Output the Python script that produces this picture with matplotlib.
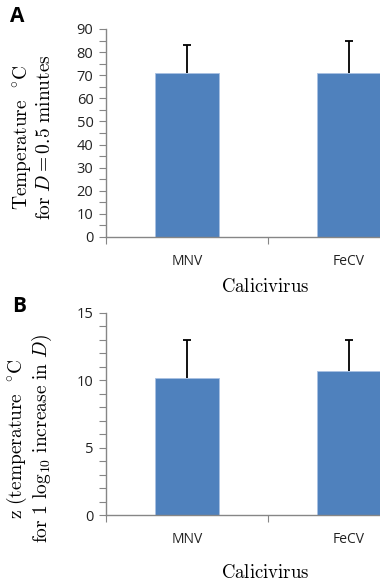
import matplotlib
matplotlib.use("Agg")
import matplotlib.pyplot as plt
from matplotlib.ticker import MultipleLocator, FixedLocator, NullFormatter

plt.rcParams['mathtext.fontset'] = 'cm'

categories = ["MNV", "FeCV"]
values_a = [71, 71]
err_a = [12, 14]
values_b = [10.15, 10.65]
err_b = [2.85, 2.35]

fig = plt.figure(figsize=(3.8, 5.88), dpi=100)

BAR = '#4F81BD'
AX = '#868686'

def style(ax, ymax, major, minor, vals, errs):
    x = list(range(len(categories)))
    ax.bar(x, vals, width=0.4, color=BAR, edgecolor='#a9c1e2', linewidth=0.6, zorder=2)
    eb = ax.errorbar(x, vals, yerr=[[0]*len(vals), errs], fmt='none', ecolor='black',
                     elinewidth=1.3, capsize=3, capthick=1.3, zorder=3)
    eb[1][0].set_visible(False)
    ax.set_xlim(-0.5, 1.5)
    ax.set_ylim(0, ymax)
    for s in ['top', 'right']:
        ax.spines[s].set_visible(False)
    for s in ['left', 'bottom']:
        ax.spines[s].set_color(AX)
        ax.spines[s].set_linewidth(1.0)
    ax.yaxis.set_major_locator(MultipleLocator(major))
    ax.yaxis.set_minor_locator(MultipleLocator(minor))
    ax.tick_params(axis='y', which='both', direction='out', length=5, width=0.8,
                   color=AX, labelcolor='#222222', labelsize=10.5, pad=4)
    ax.xaxis.set_major_locator(FixedLocator([-0.5, 0.5, 1.5]))
    ax.xaxis.set_major_formatter(NullFormatter())
    ax.xaxis.set_minor_locator(FixedLocator(x))
    ax.set_xticklabels(categories, minor=True)
    ax.tick_params(axis='x', which='major', direction='out', length=5, width=0.8, color=AX)
    ax.tick_params(axis='x', which='minor', length=0, labelsize=10, labelcolor='#222222', pad=12)
    for lab in ax.get_yticklabels() + ax.get_xticklabels(minor=True):
        lab.set_fontfamily('Open Sans')

left = 106 / 380
width = 324 / 380
axA = fig.add_axes([left, 351 / 588, width, 208 / 588])
style(axA, 90, 10, 5, values_a, err_a)
axA.set_ylabel("$\\mathrm{Temperature\\ \\ ^{\\circ}C}$\n$\\mathrm{for}\\ D = 0.5\\ \\mathrm{minutes}$",
               fontsize=14, linespacing=1.1)
axA.yaxis.set_label_coords(-0.16, 0.48)
axA.set_xlabel("$\\mathrm{Calicivirus}$", fontsize=13.5)
axA.xaxis.set_label_coords(0.49, -0.19)

axB = fig.add_axes([left, 72.7 / 588, width, 202.6 / 588])
style(axB, 15, 5, 1, values_b, err_b)
axB.set_ylabel("$\\mathrm{z\\ (temperature\\ \\ ^{\\circ}C}$\n$\\mathrm{for\\ 1\\ log_{10}\\ increase\\ in}\\ D)$",
               fontsize=14, linespacing=1.1)
axB.yaxis.set_label_coords(-0.16, 0.38)
axB.set_xlabel("$\\mathrm{Calicivirus}$", fontsize=13.5)
axB.xaxis.set_label_coords(0.49, -0.235)

fig.text(17 / 380, 1 - 16 / 588, "A", fontsize=15, fontweight='bold', family='Open Sans',
         ha='center', va='center')
fig.text(19 / 380, 1 - 306 / 588, "B", fontsize=15, fontweight='bold', family='Open Sans',
         ha='center', va='center')

fig.savefig("out.png", dpi=100)
